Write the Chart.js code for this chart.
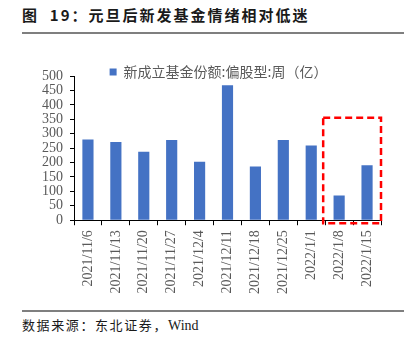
<!DOCTYPE html>
<html><head><meta charset="utf-8">
<script src="https://cdn.jsdelivr.net/npm/chart.js@4"></script>
<style>
html,body{margin:0;padding:0;background:#fff;width:414px;height:351px;overflow:hidden;position:relative;font-family:"Noto Sans CJK SC",sans-serif;}
#title{position:absolute;left:22px;top:5px;font-size:15px;font-weight:bold;color:#1a1a1a;letter-spacing:2px;white-space:nowrap;line-height:20px}
#rule1{position:absolute;left:22px;top:32px;width:382px;height:2px;background:#7f7f7f}
#box{position:absolute;left:0;top:57px;width:414px;height:248px}
#rule2{position:absolute;left:22px;top:310px;width:382px;height:2px;background:#7f7f7f}
#source{position:absolute;left:22px;top:316px;font-size:13px;color:#1a1a1a;letter-spacing:1.6px;white-space:nowrap;line-height:18px}
#source .w{font-family:"Liberation Serif",serif;letter-spacing:0;font-size:14px}
</style>
</head><body>
<div id="title">图&nbsp;&nbsp;19：元旦后新发基金情绪相对低迷</div>
<div id="rule1"></div>
<div id="box"><canvas id="c"></canvas></div>
<div id="rule2"></div>
<div id="source">数据来源：东北证券，<span class="w">Wind</span></div>
<script>
const categories = ["2021/11/6","2021/11/13","2021/11/20","2021/11/27","2021/12/4","2021/12/11","2021/12/18","2021/12/25","2022/1/1","2022/1/8","2022/1/15"];
const fundShares = [280, 271, 237, 278, 203, 468, 186, 278, 259, 86, 191];
const seriesName = "新成立基金份额:偏股型:周（亿）";
const yTicks = [0,50,100,150,200,250,300,350,400,450,500];
const highlightFrom = 9;   // first highlighted category index
const highlightTop = 355;  // value level of the dashed box top

const highlight = {
  id: 'highlight',
  afterDraw(chart) {
    const {ctx, scales: {x, y}, chartArea} = chart;
    const step = x.getPixelForValue(1) - x.getPixelForValue(0);
    const left = x.getPixelForValue(highlightFrom) - step / 2 - 2;
    const right = chartArea.right;
    const top = y.getPixelForValue(highlightTop);
    const bottom = y.bottom + 3;
    ctx.save();
    ctx.strokeStyle = '#FF0000';
    ctx.lineWidth = 2.5;
    ctx.setLineDash([7, 4]);
    ctx.strokeRect(left, top, right - left, bottom - top);
    ctx.restore();
  }
};
const legendOverlap = {
  id: 'legendOverlap',
  beforeInit(chart) {
    const lg = chart.legend;
    if (!lg) return;
    const fit = lg.fit.bind(lg);
    lg.fit = function () { fit(); this.height = 19; };
    lg.draw = function () {
      if (!this.options.display) return;
      const ctx = this.ctx;
      ctx.save();
      ctx.translate(-9, 0);
      this._draw();
      ctx.restore();
    };
  }
};

new Chart(document.getElementById('c'), {
  type: 'bar',
  data: {
    labels: categories,
    datasets: [{
      label: seriesName,
      data: fundShares,
      backgroundColor: '#4472C4',
      borderWidth: 0,
      categoryPercentage: 1,
      barPercentage: 0.4
    }]
  },
  options: {
    responsive: true,
    maintainAspectRatio: false,
    animation: false,
    layout: {padding: {left: 35, right: 33, top: 0, bottom: 6}},
    plugins: {
      tooltip: {enabled: false},
      legend: {
        position: 'top',
        fullSize: false,
        labels: {
          boxWidth: 7, boxHeight: 7, padding: 8,
          color: '#595959',
          font: {family: '"Noto Sans CJK SC"', size: 14}
        }
      }
    },
    scales: {
      x: {
        offset: true,
        grid: {offset: true, drawOnChartArea: false, drawTicks: true, tickLength: 5, color: '#000'},
        border: {color: '#000', width: 1},
        ticks: {
          maxRotation: 90, minRotation: 90, autoSkip: false, padding: 5,
          color: '#595959',
          font: {family: '"Liberation Serif"', size: 14}
        }
      },
      y: {
        min: 0, max: 500,
        afterBuildTicks(axis) { axis.ticks = yTicks.map(v => ({value: v})); },
        grid: {drawOnChartArea: false, drawTicks: true, tickLength: 4, color: '#000'},
        border: {color: '#000', width: 1},
        ticks: {
          autoSkip: false, padding: 7,
          color: '#595959',
          font: {family: '"Liberation Serif"', size: 14}
        }
      }
    }
  },
  plugins: [highlight, legendOverlap]
});
</script>
</body></html>
